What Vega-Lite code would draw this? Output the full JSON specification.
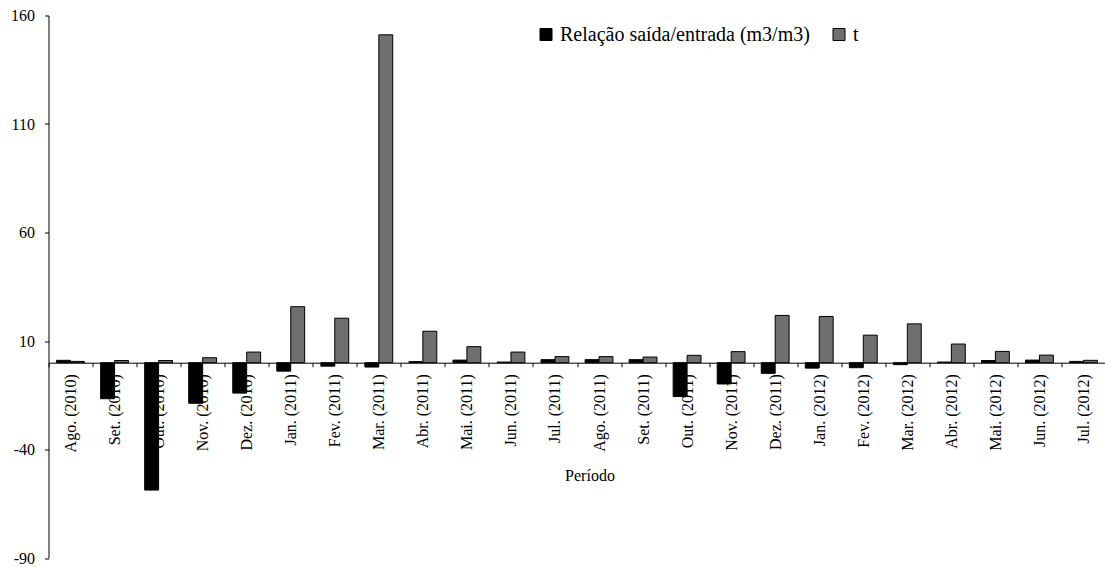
{
  "$schema": "https://vega.github.io/schema/vega-lite/v6.json",
  "width": 1057,
  "height": 542.5,
  "autosize": {"type": "none"},
  "padding": {"left": 48.5, "top": 15.5, "right": 0, "bottom": 9},
  "background": "white",
  "config": {
    "font": "Liberation Serif, Times New Roman, serif",
    "view": {"stroke": null},
    "axis": {"labelFont": "Liberation Serif, Times New Roman, serif", "titleFont": "Liberation Serif, Times New Roman, serif", "labelColor": "black", "titleColor": "black", "domainColor": "black", "tickColor": "black", "grid": false},
    "legend": {"labelFont": "Liberation Serif, Times New Roman, serif"}
  },
  "data": {
    "values": [
      {"periodo": "Ago. (2010)", "serie": "Relação saída/entrada (m3/m3)", "valor": 1.1},
      {"periodo": "Ago. (2010)", "serie": "t", "valor": 0.6},
      {"periodo": "Set. (2010)", "serie": "Relação saída/entrada (m3/m3)", "valor": -16.6},
      {"periodo": "Set. (2010)", "serie": "t", "valor": 1.0},
      {"periodo": "Out. (2010)", "serie": "Relação saída/entrada (m3/m3)", "valor": -58.7},
      {"periodo": "Out. (2010)", "serie": "t", "valor": 1.0},
      {"periodo": "Nov. (2010)", "serie": "Relação saída/entrada (m3/m3)", "valor": -18.7},
      {"periodo": "Nov. (2010)", "serie": "t", "valor": 2.3},
      {"periodo": "Dez. (2010)", "serie": "Relação saída/entrada (m3/m3)", "valor": -14.0},
      {"periodo": "Dez. (2010)", "serie": "t", "valor": 4.9},
      {"periodo": "Jan. (2011)", "serie": "Relação saída/entrada (m3/m3)", "valor": -3.9},
      {"periodo": "Jan. (2011)", "serie": "t", "valor": 25.8},
      {"periodo": "Fev. (2011)", "serie": "Relação saída/entrada (m3/m3)", "valor": -1.6},
      {"periodo": "Fev. (2011)", "serie": "t", "valor": 20.5},
      {"periodo": "Mar. (2011)", "serie": "Relação saída/entrada (m3/m3)", "valor": -2.0},
      {"periodo": "Mar. (2011)", "serie": "t", "valor": 151.1},
      {"periodo": "Abr. (2011)", "serie": "Relação saída/entrada (m3/m3)", "valor": 0.5},
      {"periodo": "Abr. (2011)", "serie": "t", "valor": 14.5},
      {"periodo": "Mai. (2011)", "serie": "Relação saída/entrada (m3/m3)", "valor": 1.2},
      {"periodo": "Mai. (2011)", "serie": "t", "valor": 7.4},
      {"periodo": "Jun. (2011)", "serie": "Relação saída/entrada (m3/m3)", "valor": 0.3},
      {"periodo": "Jun. (2011)", "serie": "t", "valor": 4.9},
      {"periodo": "Jul. (2011)", "serie": "Relação saída/entrada (m3/m3)", "valor": 1.4},
      {"periodo": "Jul. (2011)", "serie": "t", "valor": 2.8},
      {"periodo": "Ago. (2011)", "serie": "Relação saída/entrada (m3/m3)", "valor": 1.4},
      {"periodo": "Ago. (2011)", "serie": "t", "valor": 2.8},
      {"periodo": "Set. (2011)", "serie": "Relação saída/entrada (m3/m3)", "valor": 1.4},
      {"periodo": "Set. (2011)", "serie": "t", "valor": 2.6},
      {"periodo": "Out. (2011)", "serie": "Relação saída/entrada (m3/m3)", "valor": -15.6},
      {"periodo": "Out. (2011)", "serie": "t", "valor": 3.4},
      {"periodo": "Nov. (2011)", "serie": "Relação saída/entrada (m3/m3)", "valor": -9.8},
      {"periodo": "Nov. (2011)", "serie": "t", "valor": 5.1},
      {"periodo": "Dez. (2011)", "serie": "Relação saída/entrada (m3/m3)", "valor": -4.9},
      {"periodo": "Dez. (2011)", "serie": "t", "valor": 21.8},
      {"periodo": "Jan. (2012)", "serie": "Relação saída/entrada (m3/m3)", "valor": -2.5},
      {"periodo": "Jan. (2012)", "serie": "t", "valor": 21.3},
      {"periodo": "Fev. (2012)", "serie": "Relação saída/entrada (m3/m3)", "valor": -2.3},
      {"periodo": "Fev. (2012)", "serie": "t", "valor": 12.7},
      {"periodo": "Mar. (2012)", "serie": "Relação saída/entrada (m3/m3)", "valor": -0.9},
      {"periodo": "Mar. (2012)", "serie": "t", "valor": 17.9},
      {"periodo": "Abr. (2012)", "serie": "Relação saída/entrada (m3/m3)", "valor": 0.3},
      {"periodo": "Abr. (2012)", "serie": "t", "valor": 8.6},
      {"periodo": "Mai. (2012)", "serie": "Relação saída/entrada (m3/m3)", "valor": 1.0},
      {"periodo": "Mai. (2012)", "serie": "t", "valor": 5.2},
      {"periodo": "Jun. (2012)", "serie": "Relação saída/entrada (m3/m3)", "valor": 1.2},
      {"periodo": "Jun. (2012)", "serie": "t", "valor": 3.5},
      {"periodo": "Jul. (2012)", "serie": "Relação saída/entrada (m3/m3)", "valor": 0.6},
      {"periodo": "Jul. (2012)", "serie": "t", "valor": 1.1}
    ]
  },
  "mark": {"type": "bar", "stroke": "black", "strokeWidth": 1},
  "encoding": {
    "x": {
      "field": "periodo",
      "type": "nominal",
      "sort": null,
      "scale": {"paddingInner": 0, "paddingOuter": 0},
      "axis": {
        "title": "Período",
        "titleFont": "Liberation Serif, Times New Roman, serif",
        "titleFontSize": 16,
        "titleFontWeight": "normal",
        "titleX": 541,
        "titleY": 113,
        "titleAlign": "center",
        "titleBaseline": "middle",
        "labelAngle": -90,
        "labelFont": "Liberation Serif, Times New Roman, serif",
        "labelFontSize": 16,
        "labelPadding": 7,
        "tickBand": "extent",
        "tickSize": 4,
        "offset": -195.3
      }
    },
    "xOffset": {
      "field": "serie",
      "type": "nominal",
      "scale": {"paddingInner": 0, "paddingOuter": 0.58}
    },
    "y": {
      "field": "valor",
      "type": "quantitative",
      "scale": {"domain": [-90, 160], "nice": false, "zero": false},
      "axis": {
        "title": null,
        "values": [-90, -40, 10, 60, 110, 160],
        "labelExpr": "replace(datum.label, '−', '-')",
        "labelFont": "Liberation Serif, Times New Roman, serif",
        "labelFontSize": 16,
        "labelPadding": 10,
        "tickSize": 4
      }
    },
    "color": {
      "field": "serie",
      "type": "nominal",
      "scale": {"domain": ["Relação saída/entrada (m3/m3)", "t"], "range": ["#000000", "#6f6f6f"]},
      "legend": {
        "title": null,
        "orient": "none",
        "direction": "horizontal",
        "legendX": 487.5,
        "legendY": 9,
        "symbolType": "square",
        "symbolSize": 144,
        "symbolStrokeColor": "black",
        "symbolStrokeWidth": 1,
        "symbolOpacity": 1,
        "labelFont": "Liberation Serif, Times New Roman, serif",
        "labelFontSize": 20,
        "labelColor": "black",
        "labelLimit": 0,
        "labelOffset": 4,
        "columnPadding": 19
      }
    }
  }
}
